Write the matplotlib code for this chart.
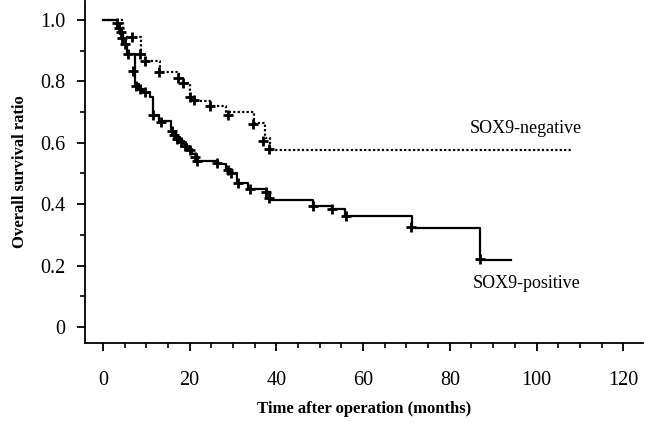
import matplotlib
matplotlib.use('Agg')
import matplotlib.pyplot as plt
from matplotlib.ticker import MultipleLocator

# SOX9-positive: tiempos de evento y supervivencia tras cada paso
pos_t = [0, 3.3, 4.0, 4.7, 5.5, 7.4, 8.3, 9.5, 10.8, 11.5, 13.0, 15.8, 16.8, 17.8,
         18.6, 19.5, 20.5, 21.6, 26.5, 28.5, 29.5, 31.0, 33.5, 37.8, 38.5, 48.5,
         52.8, 55.8, 71.2, 87.0, 94.0]
pos_s = [1.0, 0.98, 0.955, 0.92, 0.89, 0.79, 0.775, 0.765, 0.75, 0.69, 0.67, 0.635,
         0.62, 0.605, 0.595, 0.58, 0.565, 0.54, 0.53, 0.515, 0.50, 0.47, 0.45, 0.44,
         0.415, 0.395, 0.385, 0.36, 0.323, 0.217, 0.217]
pos_cens_t = [3.3, 3.8, 4.2, 4.5, 5.0, 5.7, 7.0, 7.6, 8.5, 9.8, 11.6, 13.5, 15.9, 16.5,
              17.2, 18.0, 19.0, 20.0, 21.2, 21.8, 26.3, 28.9, 29.6, 31.2, 34.0, 37.5,
              38.3, 48.5, 52.8, 56.0, 71.0, 87.0]
pos_cens_s = [0.99, 0.975, 0.96, 0.94, 0.92, 0.89, 0.835, 0.785, 0.775, 0.765, 0.69,
              0.667, 0.637, 0.625, 0.613, 0.603, 0.59, 0.575, 0.555, 0.54, 0.535, 0.51,
              0.50, 0.468, 0.45, 0.44, 0.42, 0.395, 0.383, 0.36, 0.325, 0.22]

# SOX9-negative
neg_t = [0, 4.7, 8.9, 9.8, 13.2, 17.6, 18.5, 20.1, 21.0, 24.7, 28.5, 34.8, 37.4, 38.5, 108.0]
neg_s = [1.0, 0.945, 0.89, 0.865, 0.83, 0.81, 0.795, 0.75, 0.735, 0.72, 0.70, 0.665,
         0.615, 0.578, 0.578]
neg_cens_t = [6.6, 8.5, 9.7, 13.0, 17.4, 18.5, 20.1, 21.0, 24.7, 28.9, 34.7, 37.0, 38.3]
neg_cens_s = [0.945, 0.89, 0.867, 0.83, 0.81, 0.795, 0.75, 0.74, 0.72, 0.69, 0.66,
              0.607, 0.58]

x_ticks = [0, 20, 40, 60, 80, 100, 120]
y_ticks = [0, 0.2, 0.4, 0.6, 0.8, 1.0]
y_tick_labels = ['0', '0.2', '0.4', '0.6', '0.8', '1.0']

plt.rcParams['font.family'] = ['Liberation Serif', 'DejaVu Serif']

fig = plt.figure(figsize=(6.53, 4.23), dpi=100)
ax = fig.add_axes([0.130, 0.189, 0.855, 0.809])

ax.step(neg_t, neg_s, where='post', color='black', lw=1.6, linestyle=(0, (1, 1)))
ax.step(pos_t, pos_s, where='post', color='black', lw=1.6)
ax.plot(neg_cens_t, neg_cens_s, linestyle='none', marker='+', ms=6.5, mew=2, color='black')
ax.plot(pos_cens_t, pos_cens_s, linestyle='none', marker='+', ms=6.5, mew=2, color='black')

ax.text(84.6, 0.645, 'SOX9-negative', fontsize=13, va='center', ha='left')
ax.text(85.3, 0.143, 'SOX9-positive', fontsize=13, va='center', ha='left')

ax.set_xlim(-4.15, 124.6)
ax.set_ylim(-0.052, 1.062)
ax.set_xticks(x_ticks)
ax.set_yticks(y_ticks)
ax.set_yticklabels(y_tick_labels)
ax.xaxis.set_minor_locator(MultipleLocator(5))
ax.yaxis.set_minor_locator(MultipleLocator(0.1))

for s in ['top', 'right']:
    ax.spines[s].set_visible(False)
for s in ['left', 'bottom']:
    ax.spines[s].set_linewidth(1.3)

ax.tick_params(axis='both', which='major', direction='out', length=6, width=1.3,
               labelsize=14.5)
ax.tick_params(axis='both', which='minor', direction='out', length=3.5, width=1.2)
ax.tick_params(axis='x', which='major', pad=14)
ax.tick_params(axis='y', which='major', pad=8)

ax.set_xlabel('Time after operation (months)', fontsize=12, fontweight='bold', labelpad=8)
ax.set_ylabel('Overall survival ratio', fontsize=12, fontweight='bold', labelpad=9)

fig.savefig('out.png', dpi=100)
